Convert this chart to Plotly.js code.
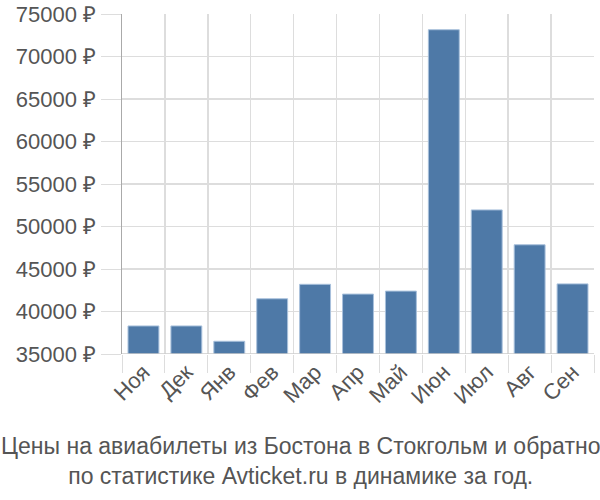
<!DOCTYPE html>
<html><head><meta charset="utf-8">
<script src="https://cdn.plot.ly/plotly-3.0.1.min.js"></script>
<style>body{margin:0}#c{width:600px;height:500px}</style>
</head><body><div id="c"></div>
<script>
const months = ["Ноя","Дек","Янв","Фев","Мар","Апр","Май","Июн","Июл","Авг","Сен"];
const prices = [38300,38300,36500,41500,43200,42050,42400,73150,51950,47850,43250];
const yTicks = [35000,40000,45000,50000,55000,60000,65000,70000,75000];
const yTickText = yTicks.map(v => v + " ₽");

Plotly.newPlot("c", [{
  type: "bar", x: months, y: prices,
  marker: {color: "#4e79a7", line: {color: "#a9c1dc", width: 1}},
  hoverinfo: "none"
}], {
  width: 600, height: 500,
  margin: {l: 122, r: 6, t: 14, b: 146},
  paper_bgcolor: "#fff", plot_bgcolor: "#fff",
  bargap: 0.28,
  showlegend: false,
  font: {family: "Liberation Sans, Arial, sans-serif", color: "#555", size: 22},
  xaxis: {
    tickangle: -45, tickson: "boundaries", ticks: "outside", ticklen: 18,
    tickcolor: "#ddd", showgrid: true, gridcolor: "#ddd", gridwidth: 1.5,
    tickfont: {size: 22, color: "#555"}, showline: false, zeroline: false
  },
  yaxis: {
    range: [35000, 75000], tickvals: yTicks, ticktext: yTickText,
    ticks: "outside", ticklen: 20, tickcolor: "#ddd",
    showgrid: true, gridcolor: "#ddd", gridwidth: 1.5,
    showline: true, linecolor: "#aaa", linewidth: 1.5,
    tickfont: {size: 22, color: "#555"}, zeroline: false
  },
  shapes: [{type: "line", xref: "paper", yref: "y", x0: 0, x1: 1, y0: 35000, y1: 35000, line: {color: "#ccc", width: 1.5}}],
  annotations: [{
    xref: "paper", yref: "paper", x: 0.5 * 600 / 472 - 122/472, y: 0, yshift: -77,
    xanchor: "center", yanchor: "top", showarrow: false,
    text: "Цены на авиабилеты из Бостона в Стокгольм и обратно<br>по статистике Avticket.ru в динамике за год.",
    font: {family: "Liberation Sans Narrow, Liberation Sans, sans-serif", size: 23, color: "#555"}
  }]
}, {staticPlot: true});
</script></body></html>
